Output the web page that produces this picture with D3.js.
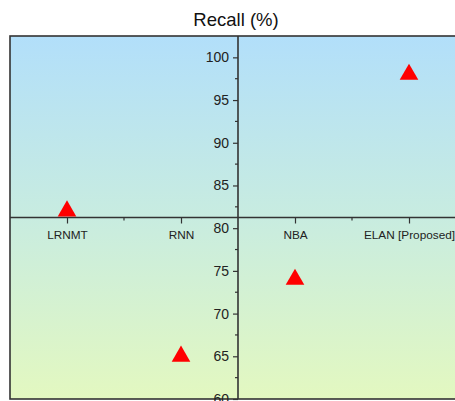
<!DOCTYPE html>
<html>
<head>
<meta charset="utf-8">
<script src="https://cdn.jsdelivr.net/npm/d3@7"></script>
<style>
html,body{margin:0;padding:0;background:#fff;overflow:hidden;}
svg{display:block;font-family:Arial,"Liberation Sans",sans-serif;}
</style>
</head>
<body>
<svg id="chart" width="455" height="401"></svg>
<script>
const categories = ["LRNMT", "RNN", "NBA", "ELAN [Proposed]"];
const recall = [82, 65, 74, 98];
const yTicks = [60, 65, 70, 75, 80, 85, 90, 95, 100];
const title = "Recall (%)";

const svg = d3.select("#chart");
const pLeft = 10, pRight = 466, pTop = 36, pBottom = 399;

const x = d3.scaleLinear().domain([0.5, 4.5]).range([pLeft, pRight]);
const y = d3.scaleLinear().domain([60, 102.5]).range([pBottom, pTop]);
const xCross = 81.25; // where the horizontal axis crosses
const yCross = 2.5;  // where the vertical axis crosses

const defs = svg.append("defs");
const grad = defs.append("linearGradient").attr("id", "bg")
  .attr("x1", 0).attr("y1", 0).attr("x2", 0).attr("y2", 1);
grad.append("stop").attr("offset", "0%").attr("stop-color", "#b2dffa");
grad.append("stop").attr("offset", "50%").attr("stop-color", "#c8ece0");
grad.append("stop").attr("offset", "100%").attr("stop-color", "#e3f8c0");

svg.append("rect").attr("x", pLeft).attr("y", pTop)
  .attr("width", pRight - pLeft).attr("height", pBottom - pTop)
  .attr("fill", "url(#bg)").attr("stroke", "#333").attr("stroke-width", 1.6);

svg.append("text").attr("x", 236).attr("y", 26).attr("text-anchor", "middle")
  .attr("font-size", 18.5).attr("fill", "#111").text(title);

// Vertical axis
const yAxis = d3.axisLeft(y).tickValues(yTicks).tickSize(5).tickPadding(4);
const gy = svg.append("g").attr("transform", `translate(${x(yCross)},0)`).call(yAxis);
gy.select(".domain").remove();
gy.append("line").attr("y1", pTop).attr("y2", pBottom).attr("stroke", "#333").attr("stroke-width", 1.6);
gy.selectAll(".tick line").attr("stroke", "#333").attr("stroke-width", 1.2);
gy.selectAll(".tick text").attr("font-size", 14).attr("fill", "#222")
  .attr("font-family", "Arial, 'Liberation Sans', sans-serif");
// minor y ticks
const yMinor = yTicks.map(v => v + 2.5).filter(v => v > 60 && v < 102.5);
gy.selectAll(".minor").data(yMinor).enter().append("line")
  .attr("x1", 0).attr("x2", -3).attr("y1", d => y(d)).attr("y2", d => y(d))
  .attr("stroke", "#333").attr("stroke-width", 1.2);

// Horizontal axis
const xAxis = d3.axisBottom(x).tickValues([1, 2, 3, 4]).tickFormat((d, i) => categories[i])
  .tickSize(6).tickPadding(7);
const gx = svg.append("g").attr("transform", `translate(0,${y(xCross)})`).call(xAxis);
gx.select(".domain").remove();
gx.append("line").attr("x1", pLeft).attr("x2", pRight).attr("stroke", "#333").attr("stroke-width", 1.6);
gx.selectAll(".tick line").attr("stroke", "#333").attr("stroke-width", 1.2);
gx.selectAll(".tick text").attr("font-size", 11.8).attr("fill", "#222")
  .attr("font-family", "Arial, 'Liberation Sans', sans-serif");
gx.selectAll(".minor").data([1.5, 3.5]).enter().append("line")
  .attr("x1", d => x(d)).attr("x2", d => x(d)).attr("y1", 0).attr("y2", 3)
  .attr("stroke", "#333").attr("stroke-width", 1.2);

// Points
const tri = d3.symbol().type(d3.symbolTriangle).size(150);
svg.selectAll(".pt").data(recall).enter().append("path")
  .attr("d", tri)
  .attr("transform", (d, i) => `translate(${x(i + 1)},${y(d)})`)
  .attr("fill", "#ff0000");
</script>
</body>
</html>
